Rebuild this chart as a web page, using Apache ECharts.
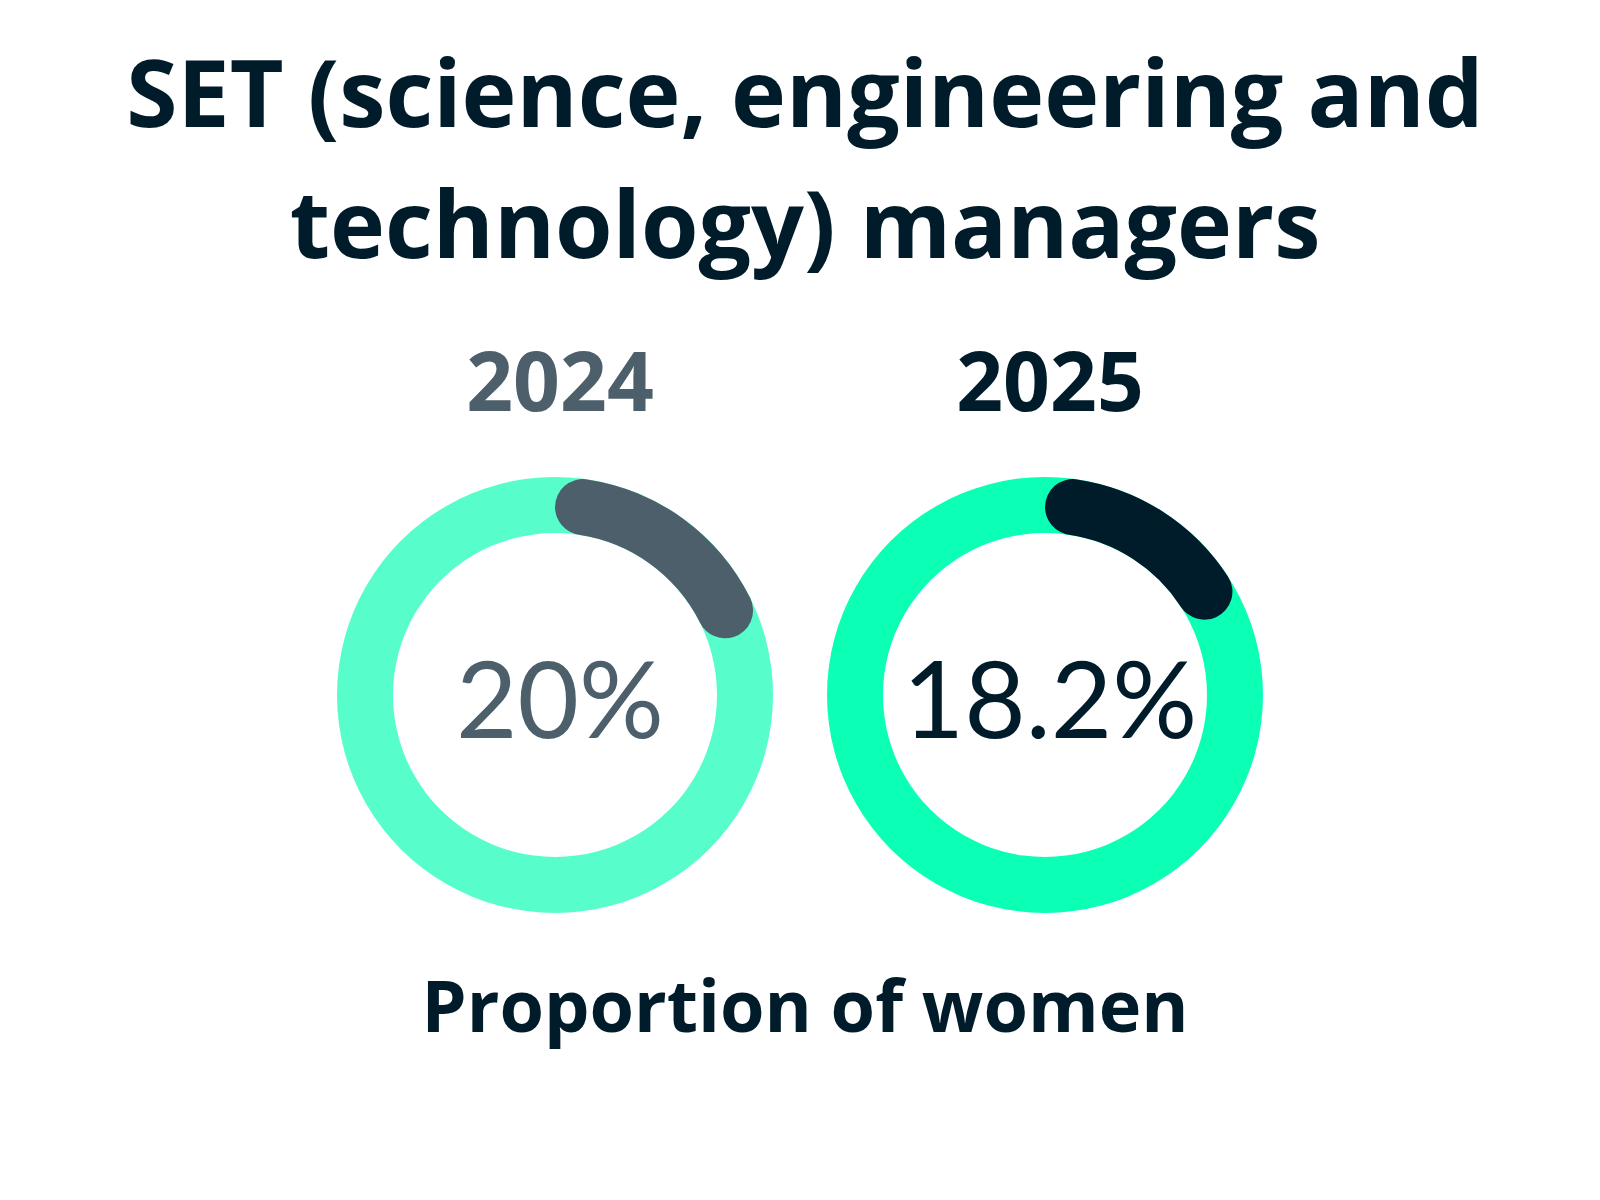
<!DOCTYPE html>
<html>
<head>
<meta charset="utf-8">
<script src="https://cdn.jsdelivr.net/npm/echarts@6/dist/echarts.min.js"></script>
<style>
  html, body { margin: 0; padding: 0; background: #fff; }
  #chart { width: 1600px; height: 1200px; }
</style>
</head>
<body>
<div id="chart"></div>
<script>
var years = ['2024', '2025'];
var womenShare = [20, 18.2];
var ringColors = ['#57FECB', '#0BFFB5'];
var arcColors = ['#4C5F6B', '#001C2B'];
var centersX = [555, 1045];

var HEAD_FONT = '"Open Sans", Lato, sans-serif';
var NUM_FONT = 'Lato, "Open Sans", sans-serif';

var myChart = echarts.init(document.getElementById('chart'), null, { renderer: 'svg' });

var titles = [{
    text: 'SET (science, engineering and\ntechnology) managers',
    left: 800,
    top: 20,
    textAlign: 'center',
    textStyle: { fontFamily: HEAD_FONT, fontWeight: 'bold', fontSize: 93, lineHeight: 131, color: '#001C2B' }
}, {
    text: 'Proportion of women',
    left: 800,
    top: 963,
    textAlign: 'center',
    textStyle: { fontFamily: HEAD_FONT, fontWeight: 'bold', fontSize: 72, color: '#001C2B' }
}];

var polars = [], angleAxes = [], radiusAxes = [], series = [];
years.forEach(function (y, i) {
    // year heading
    titles.push({
        text: y,
        left: centersX[i],
        top: 333,
        textAlign: 'center',
        textStyle: { fontFamily: HEAD_FONT, fontWeight: 'bold', fontSize: 82, color: arcColors[i] }
    });
    // value in the middle of the ring
    titles.push({
        text: womenShare[i] + '%',
        left: centersX[i],
        top: 692,
        textAlign: 'center',
        textVerticalAlign: 'middle',
        textStyle: { fontFamily: NUM_FONT, fontWeight: 'normal', fontSize: 106, color: arcColors[i] }
    });
    polars.push({ center: [centersX[i], 695], radius: [162, 218] });
    angleAxes.push({ polarIndex: i, min: 0, max: 100, startAngle: 90, clockwise: true, show: false });
    radiusAxes.push({ polarIndex: i, type: 'category', data: [y], show: false });
    series.push({
        type: 'bar',
        coordinateSystem: 'polar',
        polarIndex: i,
        data: [womenShare[i]],
        barCategoryGap: '0%',
        showBackground: true,
        backgroundStyle: { color: ringColors[i] },
        // rounded ends kept inside the arc's angle
        itemStyle: { color: arcColors[i], borderRadius: 28 },
        silent: true,
        animation: false
    });
});

myChart.setOption({
    backgroundColor: '#ffffff',
    animation: false,
    title: titles,
    polar: polars,
    angleAxis: angleAxes,
    radiusAxis: radiusAxes,
    series: series
});
</script>
</body>
</html>
